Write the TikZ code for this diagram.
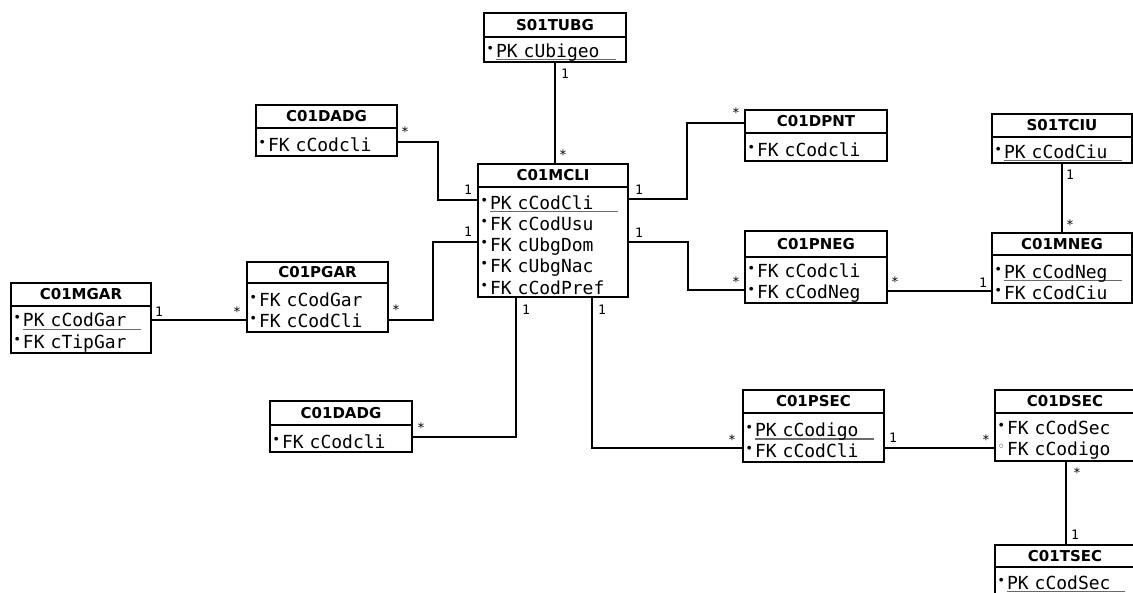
\documentclass[tikz,border=0pt]{standalone}
\usepackage{fontspec}
\setmainfont{DejaVu Sans}
\setmonofont{DejaVu Sans Mono}
\newfontfamily\symfont{DejaVu Sans}
\definecolor{ulgray}{HTML}{6A6A6A}
\newcommand\bul{\makebox[9pt][l]{\hspace{1pt}\raisebox{8pt}{\symfont\fontsize{5}{5}\selectfont ●}}}
\newcommand\hbul{\makebox[9pt][l]{\hspace{1pt}\raisebox{8pt}{\symfont\fontsize{5}{5}\selectfont ○}}}
\newcommand\fk[1]{\bul FK #1}
\newcommand\fkh[1]{\hbul FK #1}
\newcommand\pk[2]{\bul\rlap{\color{ulgray}\rule[-3pt]{#2pt}{1.3pt}}PK #1}
\newcommand\toprow{\rule{0pt}{19.7pt}}
\tikzset{
  ttl/.style={draw, line width=2.4pt, outer sep=0pt, font=\bfseries\fontsize{15}{18}\selectfont, inner sep=0pt, anchor=north west},
  tbody/.style={draw, line width=2.4pt, outer sep=0pt, font=\ttfamily\fontsize{18}{21.2}\selectfont, inner xsep=3pt, inner ysep=0pt, align=left, anchor=north west},
  conn/.style={line width=2pt},
  lab/.style={font=\ttfamily\fontsize{13}{13}\selectfont, inner sep=0pt}
}
% #1 name, #2 left, #3 top, #4 width, #5 title height, #6 body height, #7 title, #8 rows
\newcommand\erTable[8]{%
  \node[ttl, minimum width=#4pt, minimum height=#5pt] (#1t) at (#2,#3) {#7};
  \pgfmathsetmacro\tw{#4-6}
  \node[tbody, minimum width=#4pt, minimum height=#6pt, text width=\tw pt] (#1) at (#1t.south west) {\toprow#8};
}
\begin{document}
\begin{tikzpicture}[x=1pt,y=-1pt]
\useasboundingbox (0,0) rectangle (1133,592);
\fill[white] (0,0) rectangle (1133,592);
\clip (0,0) rectangle (1133,592);

\erTable{tubg}{484}{13}{142}{24}{25}{S01TUBG}{\pk{cUbigeo}{120}}
\erTable{dadga}{256}{105}{141}{23}{28}{C01DADG}{\fk{cCodcli}}
\erTable{mcli}{478}{164}{150}{23}{110}{C01MCLI}{\pk{cCodCli}{128}\\\fk{cCodUsu}\\\fk{cUbgDom}\\\fk{cUbgNac}\\\fk{cCodPref}}
\erTable{pgar}{247}{262}{141}{21}{49}{C01PGAR}{\fk{cCodGar}\\\fk{cCodCli}}
\erTable{mgar}{11}{283}{140}{23}{47}{C01MGAR}{\pk{cCodGar}{118}\\\fk{cTipGar}}
\erTable{dpnt}{745}{110}{142}{23}{28}{C01DPNT}{\fk{cCodcli}}
\erTable{pneg}{745}{231}{142}{26}{46}{C01PNEG}{\fk{cCodcli}\\\fk{cCodNeg}}
\erTable{tciu}{992}{114}{140}{23}{26}{S01TCIU}{\pk{cCodCiu}{118}}
\erTable{mneg}{992}{233}{140}{22}{48}{C01MNEG}{\pk{cCodNeg}{118}\\\fk{cCodCiu}}
\erTable{dadgb}{270}{401}{142}{24}{27}{C01DADG}{\fk{cCodcli}}
\erTable{psec}{743}{390}{141}{23}{49}{C01PSEC}{\pk{cCodigo}{119}\\\fk{cCodCli}}
\erTable{dsec}{995}{390}{140}{23}{48}{C01DSEC}{\fk{cCodSec}\\\fkh{cCodigo}}
\erTable{tsec}{995}{545}{140}{22}{28}{C01TSEC}{\pk{cCodSec}{118}}

% connectors
\draw[conn] (tubg.south) -- (tubg.south |- mclit.north);
\draw[conn] (dadga.east) -| (438,170) |- (mclit.west |- 0,200);
\draw[conn] (pgar.east |- 0,320) -| (433,280) |- (mcli.west |- 0,242);
\draw[conn] (mgar.east |- 0,320) -- (pgar.west |- 0,320);
\draw[conn] (mcli.east |- 0,199) -| (687,160) |- (dpntt.west |- 0,123);
\draw[conn] (mcli.east |- 0,242) -| (688,270) |- (pneg.west |- 0,290);
\draw[conn] (pneg.east |- 0,291) -- (mneg.west |- 0,291);
\draw[conn] (tciu.south) -- (tciu.south |- mnegt.north);
\draw[conn] (mcli.south -| 516,0) |- (dadgb.east |- 0,437);
\draw[conn] (mcli.south -| 592,0) |- (psec.west |- 0,448);
\draw[conn] (psec.east |- 0,448) -- (dsec.west |- 0,448);
\draw[conn] (dsec.south -| 1066,0) -- (tsect.north -| 1066,0);

% multiplicities
\node[lab] (m1) at (565,74) {1};
\node[lab] (m2) at (563,155) {*};
\node[lab] (m3) at (405,132) {*};
\node[lab] (m4) at (468,190) {1};
\node[lab] (m5) at (396,310) {*};
\node[lab] (m6) at (468,232) {1};
\node[lab] (m7) at (159,312) {1};
\node[lab] (m8) at (237,312) {*};
\node[lab] (m9) at (639,190) {1};
\node[lab] (m10) at (736,113) {*};
\node[lab] (m11) at (639,233) {1};
\node[lab] (m12) at (736,282) {*};
\node[lab] (m13) at (895,282) {*};
\node[lab] (m14) at (983,283) {1};
\node[lab] (m15) at (1070,175) {1};
\node[lab] (m16) at (1070,225) {*};
\node[lab] (m17) at (526,310) {1};
\node[lab] (m18) at (602,310) {1};
\node[lab] (m19) at (421,428) {*};
\node[lab] (m20) at (732,440) {*};
\node[lab] (m21) at (893,438) {1};
\node[lab] (m22) at (986,440) {*};
\node[lab] (m23) at (1077,473) {*};
\node[lab] (m24) at (1075,535) {1};
\end{tikzpicture}
\end{document}
